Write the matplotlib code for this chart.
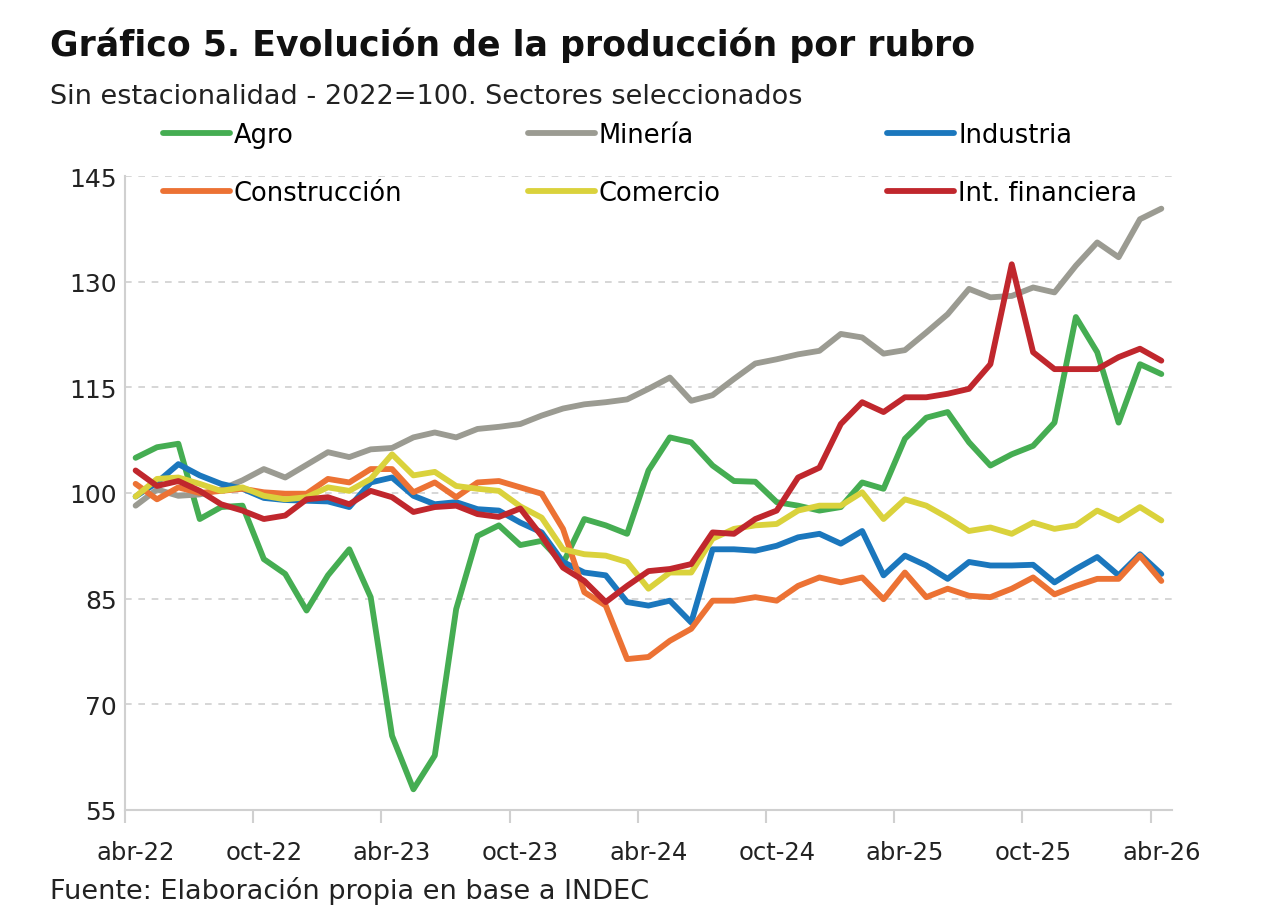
import matplotlib
matplotlib.use("Agg")
import matplotlib.pyplot as plt
import numpy as np

plt.rcParams["font.family"] = ["DejaVu Sans"]

# monthly, abr-22 .. abr-26 (49 months)
months = ["ene", "feb", "mar", "abr", "may", "jun", "jul", "ago", "sep", "oct", "nov", "dic"]
periods = [f"{months[(3 + k) % 12]}-{22 + (3 + k) // 12}" for k in range(49)]

agro = [105.0, 106.5, 107.0, 96.3, 98.0, 98.2, 90.6, 88.5, 83.3, 88.3, 92.0, 85.2,
        65.5, 57.9, 62.7, 83.5, 93.9, 95.4, 92.6, 93.2, 90.0, 96.3, 95.4, 94.2,
        103.2, 107.9, 107.2, 103.9, 101.7, 101.6, 98.7, 98.2, 97.5, 98.0, 101.5, 100.6,
        107.7, 110.7, 111.5, 107.2, 103.9, 105.5, 106.7, 110.0, 125.0, 120.0, 110.0, 118.3,
        116.9]
mineria = [98.2, 100.5, 99.6, 99.8, 100.5, 101.8, 103.4, 102.2, 104.0, 105.8, 105.1, 106.2,
           106.4, 107.9, 108.6, 107.9, 109.1, 109.4, 109.8, 111.0, 112.0, 112.6, 112.9, 113.3,
           114.8, 116.4, 113.1, 113.9, 116.2, 118.4, 119.0, 119.7, 120.2, 122.6, 122.1, 119.8,
           120.3, 122.8, 125.4, 129.0, 127.8, 128.0, 129.2, 128.5, 132.3, 135.6, 133.5, 138.9,
           140.4]
industria = [99.5, 101.5, 104.1, 102.5, 101.3, 100.6, 99.3, 99.0, 98.9, 98.8, 98.0, 101.5,
             102.2, 99.6, 98.4, 98.7, 97.7, 97.5, 95.8, 94.4, 90.2, 88.7, 88.3, 84.5,
             84.0, 84.7, 81.6, 92.0, 92.0, 91.8, 92.5, 93.7, 94.2, 92.8, 94.6, 88.3,
             91.1, 89.7, 87.8, 90.2, 89.7, 89.7, 89.8, 87.3, 89.2, 90.9, 88.3, 91.3,
             88.5]
construccion = [101.3, 99.1, 100.8, 100.0, 100.3, 100.6, 100.1, 99.9, 99.9, 102.0, 101.5, 103.4,
                103.4, 100.1, 101.5, 99.4, 101.5, 101.7, 100.8, 99.9, 94.9, 85.9, 84.0, 76.4,
                76.7, 79.0, 80.7, 84.7, 84.7, 85.2, 84.7, 86.8, 88.0, 87.3, 88.0, 84.9,
                88.7, 85.2, 86.4, 85.4, 85.2, 86.4, 88.0, 85.6, 86.8, 87.8, 87.8, 91.1,
                87.5]
comercio = [99.5, 102.0, 102.2, 101.3, 100.3, 100.8, 99.6, 99.1, 99.4, 100.8, 100.3, 102.0,
            105.5, 102.5, 103.0, 101.0, 100.6, 100.3, 98.1, 96.5, 92.0, 91.3, 91.1, 90.2,
            86.4, 88.7, 88.7, 93.5, 94.9, 95.4, 95.6, 97.5, 98.2, 98.2, 100.1, 96.3,
            99.1, 98.2, 96.5, 94.6, 95.1, 94.2, 95.8, 94.9, 95.4, 97.5, 96.1, 98.0,
            96.1]
int_financiera = [103.2, 101.0, 101.7, 100.3, 98.4, 97.5, 96.3, 96.8, 99.1, 99.4, 98.4, 100.3,
                  99.4, 97.3, 98.0, 98.2, 97.0, 96.6, 97.8, 93.9, 89.4, 87.5, 84.5, 86.8,
                  88.9, 89.2, 89.9, 94.4, 94.2, 96.3, 97.5, 102.2, 103.6, 109.8, 112.9, 111.5,
                  113.6, 113.6, 114.1, 114.8, 118.3, 132.5, 120.0, 117.6, 117.6, 117.6, 119.3, 120.5,
                  118.8]

series = [
    ("Agro", agro, "#45ad52"),
    ("Minería", mineria, "#9b9b92"),
    ("Industria", industria, "#1b77bd"),
    ("Construcción", construccion, "#ec7234"),
    ("Comercio", comercio, "#dad23c"),
    ("Int. financiera", int_financiera, "#c0272d"),
]

fig = plt.figure(figsize=(12.62, 9.2), dpi=100)
ax = fig.add_axes([0.099, 0.1188, 0.8297, 0.6885])

x = np.arange(len(periods))
handles = {}
for name, vals, col in series:
    (ln,) = ax.plot(x, vals, color=col, lw=4.2, solid_joinstyle="round",
                    solid_capstyle="round", label=name)
    handles[name] = ln

ax.set_xlim(-0.5, len(periods) - 0.5)
ax.set_ylim(55, 145)
ax.set_yticks([55, 70, 85, 100, 115, 130, 145])
ax.yaxis.grid(True, color="#d0d0d0", ls=(0, (4, 4)), lw=1.2)
ax.set_axisbelow(True)

ax.set_xticks(x[::6])
ax.set_xticklabels(periods[::6])
ax.set_xticks(np.arange(-0.5, len(periods), 6), minor=True)
ax.tick_params(axis="x", which="major", length=0, pad=22, labelsize=17.5, labelcolor="#222222")
ax.tick_params(axis="x", which="minor", length=9, width=1.5, color="#d0d0d0")
ax.tick_params(axis="y", length=0, pad=6, labelsize=18, labelcolor="#222222")

for s in ["top", "right"]:
    ax.spines[s].set_visible(False)
for s in ["left", "bottom"]:
    ax.spines[s].set_color("#d0d0d0")
    ax.spines[s].set_linewidth(1.5)

# three legend columns, two rows each
legend_cols = [("Agro", "Construcción"), ("Minería", "Comercio"), ("Industria", "Int. financiera")]
col_x = [0.121, 0.410, 0.695]
for names, cx in zip(legend_cols, col_x):
    fig.legend([handles[n] for n in names], names, loc="upper left",
               bbox_to_anchor=(cx, 0.878), frameon=False, fontsize=18.5,
               handlelength=2.6, handletextpad=0.15, labelspacing=1.25,
               borderaxespad=0)

fig.text(0.04, 0.951, "Gráfico 5. Evolución de la producción por rubro",
         fontsize=25, fontweight="bold", color="#111111", va="center")
fig.text(0.04, 0.895, "Sin estacionalidad - 2022=100. Sectores seleccionados",
         fontsize=19.5, color="#222222", va="center")
fig.text(0.04, 0.032, "Fuente: Elaboración propia en base a INDEC",
         fontsize=19.5, color="#222222", va="center")

fig.savefig("out.png", dpi=100)
